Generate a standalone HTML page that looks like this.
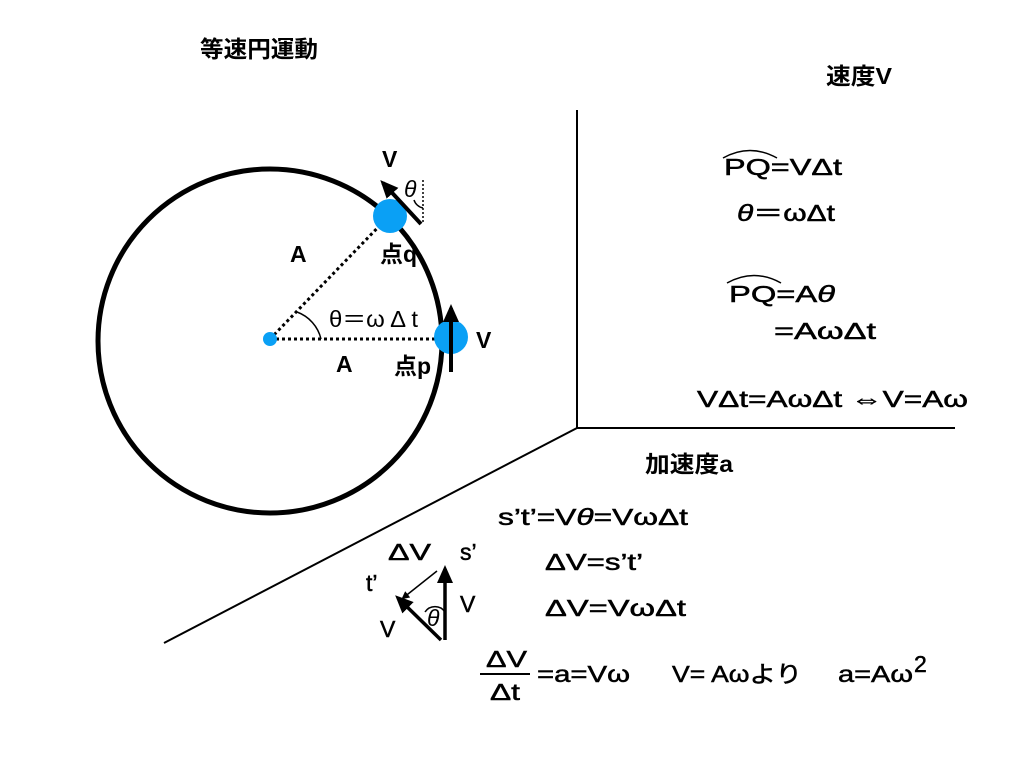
<!DOCTYPE html>
<html><head><meta charset="utf-8"><style>
body{margin:0;background:#fff}
svg{display:block}
text{font-family:"Liberation Sans","Noto Sans CJK JP",sans-serif;font-size:23px;fill:#000;stroke:#000;stroke-width:0.5}
.b{font-weight:bold;stroke-width:0}
</style></head><body>
<svg width="1024" height="768" viewBox="0 0 1024 768" xmlns="http://www.w3.org/2000/svg">
<defs>
<marker id="ah" markerWidth="8" markerHeight="8" refX="6" refY="4" orient="auto" markerUnits="userSpaceOnUse">
<path d="M0,0 L8,4 L0,8 Z" fill="#000"/></marker>
<marker id="ah2" markerWidth="18" markerHeight="16" refX="14" refY="8" orient="auto" markerUnits="userSpaceOnUse">
<path d="M0,0 L18,8 L0,16 Z" fill="#000"/></marker>
</defs>
<text x="200" y="57" class="b" font-size="20" textLength="118" lengthAdjust="spacingAndGlyphs">等速円運動</text>
<circle cx="270" cy="341" r="172" fill="none" stroke="#000" stroke-width="5"/>
<line x1="270" y1="339" x2="450" y2="339" stroke="#000" stroke-width="3" stroke-dasharray="3,3"/>
<line x1="270" y1="339" x2="388" y2="217" stroke="#000" stroke-width="3" stroke-dasharray="3,3"/>
<path d="M297,312 A38,38 0 0 1 321,339" fill="none" stroke="#000" stroke-width="1.5"/>
<line x1="423" y1="180" x2="423" y2="224" stroke="#000" stroke-width="1.5" stroke-dasharray="2,2"/>
<path d="M414,200 A12,12 0 0 0 423,208" fill="none" stroke="#000" stroke-width="1.5"/>
<circle cx="270" cy="339" r="7" fill="#0aa0f5"/>
<circle cx="390" cy="216" r="17" fill="#0aa0f5"/>
<circle cx="451" cy="337" r="17" fill="#0aa0f5"/>
<line x1="421" y1="224" x2="383" y2="183" stroke="#000" stroke-width="4" marker-end="url(#ah2)"/>
<line x1="451" y1="372" x2="451" y2="308" stroke="#000" stroke-width="4" marker-end="url(#ah2)"/>
<text x="382" y="167" class="b">V</text>
<text x="404" y="197" font-size="18" font-style="italic" style="stroke-width:0">θ</text>
<text x="290" y="262" class="b">A</text>
<text x="380" y="262" class="b">点q</text>
<text x="329" y="327" font-size="18" style="stroke-width:0" textLength="89" lengthAdjust="spacingAndGlyphs">θ＝ω Δ t</text>
<text x="476" y="348" class="b">V</text>
<text x="336" y="372" class="b">A</text>
<text x="394" y="374" class="b">点p</text>
<line x1="577" y1="110" x2="577" y2="428" stroke="#000" stroke-width="2"/>
<line x1="577" y1="428" x2="955" y2="428" stroke="#000" stroke-width="2"/>
<line x1="577" y1="428" x2="164" y2="643" stroke="#000" stroke-width="2"/>
<text x="826" y="84" class="b" font-size="20" textLength="66" lengthAdjust="spacingAndGlyphs">速度V</text>
<path d="M723,158 Q750,143 777,158" fill="none" stroke="#000" stroke-width="1.5"/>
<text x="724" y="175" textLength="118" lengthAdjust="spacingAndGlyphs">PQ=VΔt</text>
<text x="737" y="221" textLength="98" lengthAdjust="spacingAndGlyphs"><tspan font-style="italic">θ</tspan>＝ωΔt</text>
<path d="M727,283 Q754,268 781,283" fill="none" stroke="#000" stroke-width="1.5"/>
<text x="729" y="302" textLength="106" lengthAdjust="spacingAndGlyphs">PQ=A<tspan font-style="italic">θ</tspan></text>
<text x="774" y="339" textLength="102" lengthAdjust="spacingAndGlyphs">=AωΔt</text>
<text x="697" y="407" textLength="271" lengthAdjust="spacingAndGlyphs">VΔt=AωΔt ⇔V=Aω</text>
<text x="645" y="472" class="b" font-size="20" textLength="88" lengthAdjust="spacingAndGlyphs">加速度a</text>
<text x="498" y="525" textLength="190" lengthAdjust="spacingAndGlyphs">s’t’=V<tspan font-style="italic">θ</tspan>=VωΔt</text>
<text x="388" y="560" textLength="43" lengthAdjust="spacingAndGlyphs">ΔV</text>
<text x="460" y="560">s’</text>
<text x="545" y="570" textLength="98" lengthAdjust="spacingAndGlyphs">ΔV=s’t’</text>
<text x="366" y="591">t’</text>
<text x="460" y="612">V</text>
<text x="545" y="616" textLength="141" lengthAdjust="spacingAndGlyphs">ΔV=VωΔt</text>
<text x="380" y="637">V</text>
<line x1="437" y1="571" x2="403" y2="598" stroke="#000" stroke-width="1.5" marker-end="url(#ah)"/>
<line x1="445" y1="640" x2="445" y2="569" stroke="#000" stroke-width="3.5" marker-end="url(#ah2)"/>
<line x1="441" y1="640" x2="398" y2="598" stroke="#000" stroke-width="3.5" marker-end="url(#ah2)"/>
<path d="M425,612 A12,12 0 0 1 445,612" fill="none" stroke="#000" stroke-width="1.5"/>
<text x="427" y="626" font-size="17" font-style="italic" style="stroke-width:0">θ</text>
<text x="486" y="667" textLength="41" lengthAdjust="spacingAndGlyphs">ΔV</text>
<line x1="480" y1="674" x2="530" y2="674" stroke="#000" stroke-width="2"/>
<text x="490" y="700" textLength="30" lengthAdjust="spacingAndGlyphs">Δt</text>
<text x="537" y="682" textLength="93" lengthAdjust="spacingAndGlyphs">=a=Vω</text>
<text x="672" y="682" textLength="130" lengthAdjust="spacingAndGlyphs">V= Aωより</text>
<text x="838" y="682" textLength="75" lengthAdjust="spacingAndGlyphs">a=Aω</text><text x="914" y="672" font-size="16">2</text>
</svg>
</body></html>
